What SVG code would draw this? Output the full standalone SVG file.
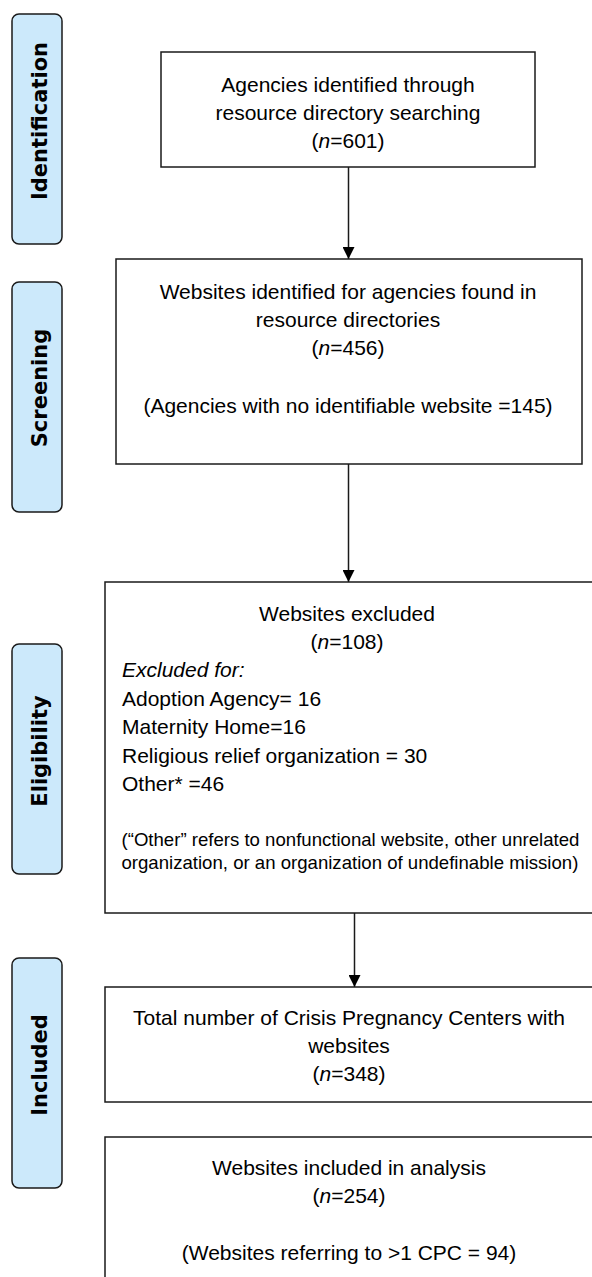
<svg xmlns="http://www.w3.org/2000/svg" width="592" height="1277" viewBox="0 0 592 1277">
<style>
.box{fill:#fff;stroke:#1a1a1a;stroke-width:1.5}
.pill{fill:#cce9fb;stroke:#1a1a1a;stroke-width:1.5}
.t{font-family:"Liberation Sans",Arial,sans-serif;font-size:21px;fill:#000}
.c{text-anchor:middle}
.s{font-size:18.6px}
.i{font-style:italic}
.lab{font-family:"DejaVu Sans",Verdana,sans-serif;font-weight:bold;font-size:21px;text-anchor:middle;fill:#000}
.conn{stroke:#1a1a1a;stroke-width:1.5;fill:none;marker-end:url(#ah)}
</style>
<defs>
<marker id="ah" markerUnits="userSpaceOnUse" markerWidth="12" markerHeight="12" refX="12" refY="6" orient="auto" viewBox="0 0 12 12">
<path d="M0,0 L12,6 L0,12 z" fill="#000"/>
</marker>
</defs>
<rect width="592" height="1277" fill="#fff"/>
<g id="stage-identification">
<rect class="pill" x="12" y="14" width="50" height="230" rx="7"/>
<text class="lab" transform="translate(46.5,121) rotate(-90)">Identification</text>
</g>
<g id="stage-screening">
<rect class="pill" x="12" y="282" width="50" height="230" rx="7"/>
<text class="lab" transform="translate(46.5,388) rotate(-90)">Screening</text>
</g>
<g id="stage-eligibility">
<rect class="pill" x="12" y="644" width="50" height="230" rx="7"/>
<text class="lab" transform="translate(46.5,751) rotate(-90)">Eligibility</text>
</g>
<g id="stage-included">
<rect class="pill" x="12" y="958" width="50" height="230" rx="7"/>
<text class="lab" transform="translate(46.5,1065) rotate(-90)">Included</text>
</g>
<g id="connectors">
<path class="conn" d="M348.5,167 V259"/>
<path class="conn" d="M348.5,464 V582"/>
<path class="conn" d="M354.5,913 V987"/>
</g>
<g id="node-identified">
<rect class="box" x="161" y="52" width="374" height="115"/>
<text class="t c" x="348" y="91.5">Agencies identified through</text>
<text class="t c" x="348" y="120">resource directory searching</text>
<text class="t c" x="348" y="148">(<tspan class="i">n</tspan>=601)</text>
</g>
<g id="node-screened">
<rect class="box" x="116" y="259" width="466" height="205"/>
<text class="t c" x="348" y="299">Websites identified for agencies found in</text>
<text class="t c" x="348" y="327">resource directories</text>
<text class="t c" x="348" y="355">(<tspan class="i">n</tspan>=456)</text>
<text class="t c" x="348" y="413">(Agencies with no identifiable website =145)</text>
</g>
<g id="node-excluded">
<rect class="box" x="105" y="582" width="500" height="331"/>
<text class="t c" x="347" y="621">Websites excluded</text>
<text class="t c" x="347" y="649">(<tspan class="i">n</tspan>=108)</text>
<text class="t i" x="122" y="677">Excluded for:</text>
<text class="t" x="122" y="706">Adoption Agency= 16</text>
<text class="t" x="122" y="734">Maternity Home=16</text>
<text class="t" x="122" y="763">Religious relief organization = 30</text>
<text class="t" x="122" y="791">Other* =46</text>
<text class="t s" x="121.5" y="846">(“Other” refers to nonfunctional website, other unrelated</text>
<text class="t s" x="121.5" y="869">organization, or an organization of undefinable mission)</text>
</g>
<g id="node-total">
<rect class="box" x="105" y="987" width="500" height="115"/>
<text class="t c" x="349" y="1025">Total number of Crisis Pregnancy Centers with</text>
<text class="t c" x="349" y="1053">websites</text>
<text class="t c" x="349" y="1081">(<tspan class="i">n</tspan>=348)</text>
</g>
<g id="node-analysed">
<rect class="box" x="105" y="1137" width="500" height="160"/>
<text class="t c" x="349" y="1175">Websites included in analysis</text>
<text class="t c" x="349" y="1203">(<tspan class="i">n</tspan>=254)</text>
<text class="t c" x="349" y="1260">(Websites referring to &gt;1 CPC = 94)</text>
</g>
</svg>
